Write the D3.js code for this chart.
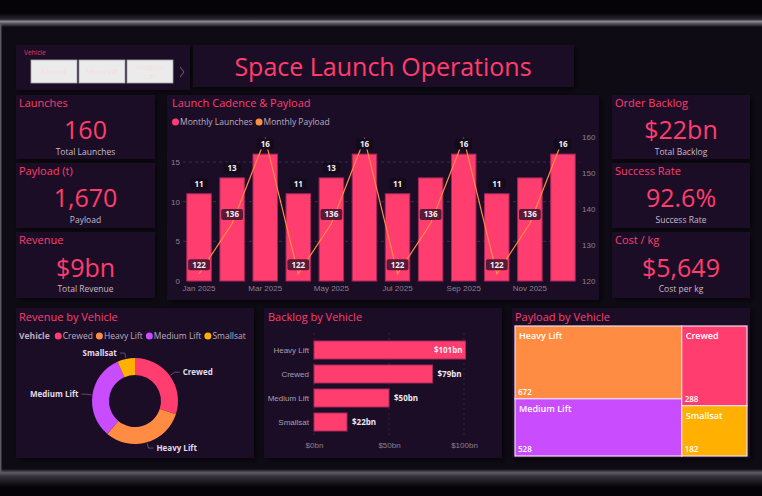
<!DOCTYPE html>
<html>
<head>
<meta charset="utf-8">
<script src="https://cdn.jsdelivr.net/npm/d3@7"></script>
<style>
  body { margin: 0; background: #050307; }
  svg { display: block; font-family: 'Segoe UI', 'Open Sans', sans-serif; }
</style>
</head>
<body>
<div id="dash"></div>
<script>
const vehicles = ['Crewed', 'Heavy Lift', 'Medium Lift', 'Smallsat'];
const vehicleColors = ['#ff3d6e', '#ff8c42', '#c94cff', '#ffb000'];

const months = ['Jan 2025', 'Feb 2025', 'Mar 2025', 'Apr 2025', 'May 2025', 'Jun 2025',
                'Jul 2025', 'Aug 2025', 'Sep 2025', 'Oct 2025', 'Nov 2025', 'Dec 2025'];
const monthlyLaunches = [11, 13, 16, 11, 13, 16, 11, 13, 16, 11, 13, 16];
const monthlyPayload = [122, 136, 159.5, 122, 136, 159.5, 122, 136, 159.5, 122, 136, 159.5];
const hiddenLaunchLabels = ['Aug 2025', 'Nov 2025'];
const launchTicks = [0, 5, 10, 15];
const payloadTicks = [120, 130, 140, 150, 160];
const comboSeries = ['Monthly Launches', 'Monthly Payload'];

const kpiTitles = ['Launches', 'Payload (t)', 'Revenue', 'Order Backlog', 'Success Rate', 'Cost / kg'];
const kpiValues = ['160', '1,670', '$9bn', '$22bn', '92.6%', '$5,649'];
const kpiLabels = ['Total Launches', 'Payload', 'Total Revenue', 'Total Backlog', 'Success Rate', 'Cost per kg'];

const revenueByVehicle = [2.7, 2.8, 2.9, 0.6];   // $bn, in vehicles order
const backlogVehicles = ['Heavy Lift', 'Crewed', 'Medium Lift', 'Smallsat'];
const backlogValues = [101, 79, 50, 22];         // $bn
const backlogTicks = [0, 50, 100];
const payloadByVehicle = [288, 672, 528, 182];   // t, in vehicles order

const W = 762, H = 496;
const pink = '#ff3d6e', orange = '#ff8c42', panelFill = '#1c1027', textGray = '#b8aec0', axisGray = '#8a8090';

const svg = d3.select('#dash').append('svg').attr('width', W).attr('height', H);
const defs = svg.append('defs');

const shadow = defs.append('filter').attr('id', 'shadow')
    .attr('x', '-10%').attr('y', '-10%').attr('width', '130%').attr('height', '130%');
shadow.append('feDropShadow').attr('dx', 2).attr('dy', 2).attr('stdDeviation', 3)
    .attr('flood-color', '#000').attr('flood-opacity', 0.7);

function vGrad(id, stops) {
    const g = defs.append('linearGradient').attr('id', id)
        .attr('x1', 0).attr('y1', 0).attr('x2', 0).attr('y2', 1);
    stops.forEach(s => g.append('stop').attr('offset', s[0]).attr('stop-color', s[1]));
}
vGrad('topEdge', [[0, '#050307'], [0.45, '#2a282e'], [0.6, '#8c8a90'], [0.75, '#5a585e'], [1, '#0f0b15']]);
vGrad('botEdge', [[0, '#0f0b15'], [0.2, '#5e5c62'], [0.4, '#36343a'], [1, '#050307']]);

// page background
svg.append('rect').attr('width', W).attr('height', H).attr('fill', '#050307');
svg.append('rect').attr('x', 0).attr('y', 26).attr('width', W).attr('height', 446).attr('fill', '#0f0b15');
svg.append('rect').attr('x', 0).attr('y', 13).attr('width', W).attr('height', 14).attr('fill', 'url(#topEdge)');
svg.append('rect').attr('x', 0).attr('y', 469).attr('width', W).attr('height', 18).attr('fill', 'url(#botEdge)');
svg.append('rect').attr('x', 0).attr('y', 24).attr('width', 1.5).attr('height', 448).attr('fill', '#5a5860');

function panel(x, y, w, h) {
    svg.append('rect').attr('x', x).attr('y', y).attr('width', w).attr('height', h)
        .attr('fill', panelFill).attr('filter', 'url(#shadow)');
}

function title(x, y, t) {
    svg.append('text').attr('x', x).attr('y', y).attr('fill', pink)
        .attr('font-size', 11).text(t);
}

// legend row: dots + labels laid out by measured text width
function legend(startX, y, names, colors) {
    let lx = startX;
    names.forEach((n, i) => {
        svg.append('circle').attr('cx', lx + 3.5).attr('cy', y - 3).attr('r', 3.5).attr('fill', colors[i]);
        const t = svg.append('text').attr('x', lx + 8).attr('y', y).attr('fill', textGray)
            .attr('font-size', 8.5).text(n);
        lx += 8 + t.node().getComputedTextLength() + 3;
    });
}

// slicer
panel(16, 45, 174, 45);
svg.append('text').attr('x', 24).attr('y', 55).attr('fill', '#e0356a').attr('font-size', 6.5).text('Vehicle');
vehicles.slice(0, 3).forEach((v, i) => {
    const bx = 31 + i * 48;
    svg.append('rect').attr('x', bx).attr('y', 60).attr('width', 46).attr('height', 23)
        .attr('fill', '#ebebeb').attr('stroke', '#a8a8ac').attr('stroke-width', 0.8);
    const words = v === 'Medium Lift' ? ['Medium', 'Lift'] : [v];
    words.forEach((w, j) => {
        svg.append('text').attr('x', bx + 23).attr('y', 74 + (j - (words.length - 1) / 2) * 9)
            .attr('text-anchor', 'middle').attr('fill', '#f6dbe4').attr('font-size', 7).text(w);
    });
});
svg.append('path').attr('d', 'M180,67 L184,72 L180,77').attr('fill', 'none')
    .attr('stroke', '#6e6676').attr('stroke-width', 1);

// title
panel(193, 45, 381, 42);
svg.append('text').attr('x', 383).attr('y', 76).attr('text-anchor', 'middle')
    .attr('fill', pink).attr('font-size', 25).text('Space Launch Operations');

// KPI cards
const cardRows = [[95, 64], [163, 65], [232, 66]];
kpiTitles.forEach((t, i) => {
    const left = i < 3;
    const x = left ? 16 : 612, w = left ? 139 : 138;
    const [y, h] = cardRows[i % 3];
    panel(x, y, w, h);
    title(x + 3, y + 12, t);
    const cx = x + w / 2;
    svg.append('text').attr('x', cx).attr('y', y + 44 + (i % 3 === 2 ? 1 : 0)).attr('text-anchor', 'middle')
        .attr('fill', pink).attr('font-size', 25).text(kpiValues[i]);
    svg.append('text').attr('x', cx).attr('y', y + 60).attr('text-anchor', 'middle')
        .attr('fill', '#c4bccc').attr('font-size', 8.5).text(kpiLabels[i]);
});

// Launch cadence & payload combo chart
panel(167, 95, 432, 205);
title(172, 107, 'Launch Cadence & Payload');
legend(172, 125, comboSeries, [pink, orange]);

const x = d3.scaleBand().domain(months).range([182.5, 579.5]).paddingInner(0.26).paddingOuter(0.13);
const yL = d3.scaleLinear().domain([0, 20]).range([281, 122.4]);
const yR = d3.scaleLinear().domain([120, 164.1]).range([281, 122.4]);

svg.append('g').selectAll('line').data(launchTicks.filter(d => d > 0)).enter().append('line')
    .attr('x1', 183).attr('x2', 580).attr('y1', d => yL(d)).attr('y2', d => yL(d))
    .attr('stroke', '#3a2e48').attr('stroke-dasharray', '3,3');

function styleAxis(g, size) {
    g.select('.domain').remove();
    g.selectAll('text').attr('fill', axisGray).attr('font-size', size).attr('font-family', null);
}

svg.append('g').attr('transform', 'translate(183,0)')
    .call(d3.axisLeft(yL).tickValues(launchTicks).tickSize(0).tickPadding(3))
    .call(g => styleAxis(g, 8));
svg.append('g').attr('transform', 'translate(580,0)')
    .call(d3.axisRight(yR).tickValues(payloadTicks).tickSize(0).tickPadding(2))
    .call(g => styleAxis(g, 8));
svg.append('g').attr('transform', 'translate(0,281)')
    .call(d3.axisBottom(x).tickValues(months.filter((d, i) => i % 2 === 0)).tickSize(0).tickPadding(4))
    .call(g => styleAxis(g, 8));

svg.append('g').selectAll('rect').data(months).enter().append('rect')
    .attr('x', d => x(d)).attr('width', x.bandwidth())
    .attr('y', (d, i) => yL(monthlyLaunches[i]))
    .attr('height', (d, i) => yL(0) - yL(monthlyLaunches[i]))
    .attr('fill', pink).attr('stroke', '#a8285a').attr('stroke-width', 1);

const cx = d => x(d) + x.bandwidth() / 2;
svg.append('path')
    .attr('d', d3.line().x((d, i) => cx(months[i])).y(d => yR(d))(monthlyPayload))
    .attr('fill', 'none').attr('stroke', orange).attr('stroke-width', 1.2);

function dataLabel(px, py, txt, fill) {
    const t = svg.append('text').attr('x', px).attr('y', py + 3).attr('text-anchor', 'middle')
        .attr('fill', '#f4eef6').attr('font-size', 8).attr('font-weight', 'bold').text(txt);
    const w = t.node().getComputedTextLength() + 8;
    svg.insert('rect', () => t.node()).attr('x', px - w / 2).attr('y', py - 5.5)
        .attr('width', w).attr('height', 11).attr('rx', 2).attr('fill', fill);
}

months.forEach((m, i) => {
    const launchY = yL(monthlyLaunches[i]) - 10;
    const payY = yR(monthlyPayload[i]) - 9;
    if (!hiddenLaunchLabels.includes(m)) dataLabel(cx(m), launchY, monthlyLaunches[i], '#130b19');
    // payload label is dropped when it would collide with the launch label
    if (Math.abs(payY - launchY) > 22) dataLabel(cx(m), payY, Math.round(monthlyPayload[i]), '#5a1934');
});

// Revenue by vehicle donut
panel(16, 308, 238, 150);
title(19, 321, 'Revenue by Vehicle');
const vt = svg.append('text').attr('x', 19).attr('y', 339).attr('fill', textGray)
    .attr('font-size', 8.5).attr('font-weight', 'bold').text('Vehicle');
legend(19 + vt.node().getComputedTextLength() + 5, 339, vehicles, vehicleColors);

const dcx = 135, dcy = 401, rOut = 43, rIn = 26;
const pie = d3.pie().sort(null).value(d => d)(revenueByVehicle);
const arc = d3.arc().innerRadius(rIn).outerRadius(rOut);
const donut = svg.append('g').attr('transform', `translate(${dcx},${dcy})`);
donut.selectAll('path').data(pie).enter().append('path')
    .attr('d', arc).attr('fill', (d, i) => vehicleColors[i]);
pie.forEach((d, i) => {
    const a = (d.startAngle + d.endAngle) / 2;
    const p1 = [Math.sin(a) * (rOut + 1), -Math.cos(a) * (rOut + 1)];
    const p2 = [Math.sin(a) * (rOut + 6), -Math.cos(a) * (rOut + 6)];
    const right = Math.sin(a) >= 0;
    const p3 = [p2[0] + (right ? 5 : -5), p2[1]];
    donut.append('polyline').attr('points', [p1, p2, p3].map(p => p.join(',')).join(' '))
        .attr('fill', 'none').attr('stroke', '#6a6272').attr('stroke-width', 0.8);
    donut.append('text').attr('x', p3[0] + (right ? 3 : -3)).attr('y', p3[1] + 3)
        .attr('text-anchor', right ? 'start' : 'end').attr('fill', '#e4dce8')
        .attr('font-size', 8).attr('font-weight', 'bold').text(vehicles[i]);
});

// Backlog by vehicle bars
panel(264, 308, 238, 150);
title(268, 321, 'Backlog by Vehicle');
const bx = d3.scaleLinear().domain([0, 100]).range([314, 464]);
const by = d3.scaleBand().domain(backlogVehicles).range([338, 434]).paddingInner(0.25).paddingOuter(0.125);
svg.append('g').selectAll('line').data(backlogTicks).enter().append('line')
    .attr('x1', d => bx(d)).attr('x2', d => bx(d)).attr('y1', 333).attr('y2', 437)
    .attr('stroke', '#2e2438').attr('stroke-dasharray', '2,3');
svg.append('g').attr('transform', 'translate(0,437)')
    .call(d3.axisBottom(bx).tickValues(backlogTicks).tickFormat(d => `$${d}bn`).tickSize(0).tickPadding(5))
    .call(g => styleAxis(g, 8));
svg.append('g').attr('transform', 'translate(314,0)')
    .call(d3.axisLeft(by).tickSize(0).tickPadding(5))
    .call(g => styleAxis(g, 8))
    .call(g => g.selectAll('text').attr('fill', '#a89fb0'));
svg.append('g').selectAll('rect').data(backlogVehicles).enter().append('rect')
    .attr('x', bx(0)).attr('y', d => by(d))
    .attr('width', (d, i) => bx(backlogValues[i]) - bx(0)).attr('height', by.bandwidth())
    .attr('fill', pink).attr('stroke', '#a8285a').attr('stroke-width', 1);
backlogVehicles.forEach((v, i) => {
    const end = bx(backlogValues[i]);
    const inside = end + 40 > 495;
    svg.append('text').attr('x', inside ? end - 3 : end + 5).attr('y', by(v) + by.bandwidth() / 2 + 3)
        .attr('text-anchor', inside ? 'end' : 'start').attr('fill', '#f0e8f2')
        .attr('font-size', 8).attr('font-weight', 'bold').text(`$${backlogValues[i]}bn`);
});

// Payload by vehicle treemap
panel(512, 308, 238, 150);
title(515, 321, 'Payload by Vehicle');
const root = d3.hierarchy({ children: vehicles.map((v, i) => ({ name: v, value: payloadByVehicle[i], color: vehicleColors[i] })) })
    .sum(d => d.value || 0)
    .sort((a, b) => b.value - a.value);
d3.treemap().size([232, 130]).tile(d3.treemapSquarify)(root);
const tm = svg.append('g').attr('transform', 'translate(515,326)');
const cell = tm.selectAll('g').data(root.leaves()).enter().append('g');
cell.append('rect')
    .attr('x', d => d.x0).attr('y', d => d.y0)
    .attr('width', d => d.x1 - d.x0).attr('height', d => d.y1 - d.y0)
    .attr('fill', d => d.data.color).attr('stroke', '#f2dcf2').attr('stroke-width', 1.2);
cell.append('text').attr('x', d => d.x0 + 4).attr('y', d => d.y0 + 13)
    .attr('fill', '#fff').attr('font-size', 9).attr('font-weight', 600).text(d => d.data.name);
cell.append('text').attr('x', d => d.x0 + 3).attr('y', d => d.y1 - 4)
    .attr('fill', '#fff').attr('font-size', 8).attr('font-weight', 600).text(d => d.value);
</script>
</body>
</html>
